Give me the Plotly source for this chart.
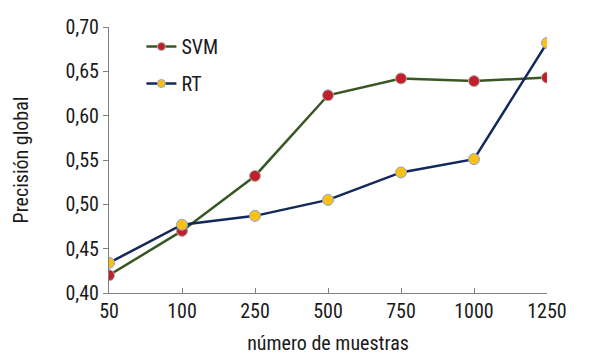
import plotly.graph_objects as go

categories = ["50", "100", "250", "500", "750", "1000", "1250"]
svm = [0.420, 0.470, 0.532, 0.623, 0.642, 0.639, 0.643]
rt = [0.434, 0.477, 0.487, 0.505, 0.536, 0.551, 0.682]
y_ticks = [0.40, 0.45, 0.50, 0.55, 0.60, 0.65, 0.70]
y_tick_labels = ["0,40", "0,45", "0,50", "0,55", "0,60", "0,65", "0,70"]

FONT = "Roboto Condensed, Liberation Sans Narrow, Roboto, sans-serif"
SVM_LINE, SVM_MARK = "#385723", "#c0202a"
RT_LINE, RT_MARK = "#13275a", "#fbc015"

fig = go.Figure()
fig.add_trace(go.Scatter(
    x=categories, y=svm, name="SVM", mode="lines+markers",
    line=dict(color=SVM_LINE, width=2.5),
    marker=dict(size=11, color=SVM_MARK, line=dict(color="#b0b0b0", width=1)),
    showlegend=False,
))
fig.add_trace(go.Scatter(
    x=categories, y=rt, name="RT", mode="lines+markers",
    line=dict(color=RT_LINE, width=2.5),
    marker=dict(size=11, color=RT_MARK, line=dict(color="#8aa6d6", width=1)),
    showlegend=False,
))
# legend entries (smaller symbols as in reference)
fig.add_trace(go.Scatter(
    x=[None], y=[None], name="SVM", mode="lines+markers",
    line=dict(color=SVM_LINE, width=2.5),
    marker=dict(size=8, color=SVM_MARK, line=dict(color="#b0b0b0", width=1)),
    legendgroup="a",
))
fig.add_trace(go.Scatter(
    x=[None], y=[None], name="RT", mode="lines+markers",
    line=dict(color=RT_LINE, width=2.5),
    marker=dict(size=8, color=RT_MARK, line=dict(color="#8aa6d6", width=1)),
    legendgroup="b",
))

fig.update_layout(
    width=587, height=356,
    margin=dict(l=101, r=48, t=19, b=71),
    plot_bgcolor="white", paper_bgcolor="white",
    font=dict(family=FONT, size=20, color="#1a1a1a"),
    showlegend=True,
    legend=dict(x=0.074, y=1.0, xanchor="left", yanchor="top",
                font=dict(size=20), tracegroupgap=8, bgcolor="rgba(0,0,0,0)"),
    xaxis=dict(
        type="category", range=[0, 6], automargin=False,
        showline=True, linecolor="#808080", linewidth=1,
        ticks="inside", ticklen=5, tickcolor="#808080",
        showgrid=False, zeroline=False,
        title=dict(text="número de muestras", font=dict(size=20), standoff=13),
    ),
    yaxis=dict(
        range=[0.40, 0.70], tickvals=y_ticks, ticktext=y_tick_labels, automargin=False,
        showline=True, linecolor="#808080", linewidth=1,
        ticks="outside", ticklen=5, tickcolor="#808080",
        showgrid=False, zeroline=False,
        title=dict(text="Precisión global", font=dict(size=20), standoff=31),
    ),
)

fig.write_html("out.html")
